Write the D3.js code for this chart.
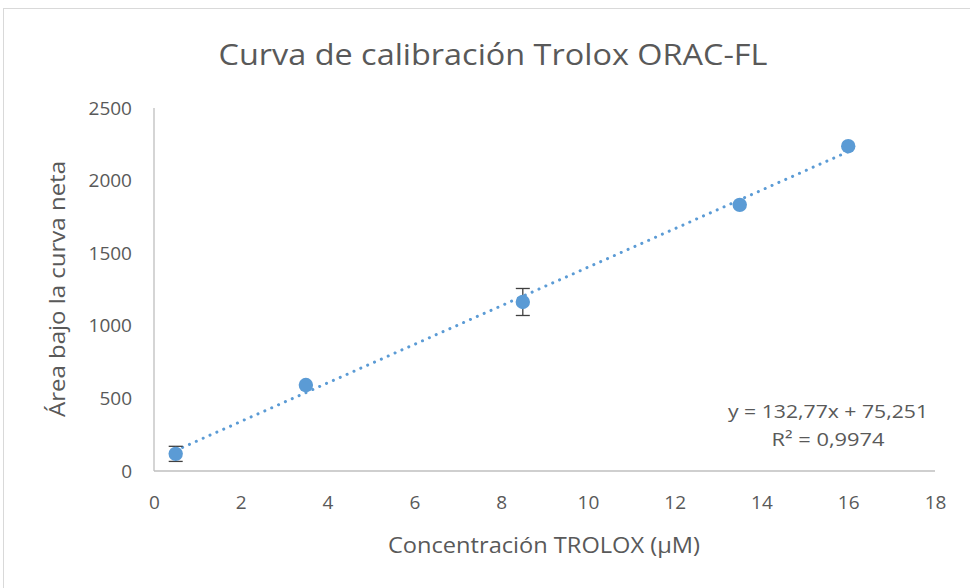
<!DOCTYPE html>
<html><head><meta charset="utf-8">
<script src="https://cdn.jsdelivr.net/npm/d3@7"></script>
<style>body{margin:0;background:#fff}svg{display:block}</style>
</head><body>
<svg id="c" width="970" height="588"></svg>
<script>
const concentrations = [0.5, 3.5, 8.5, 13.5, 16];
const areaValues = [118, 592, 1164, 1833, 2237];
const errorValues = [52, 0, 93, 0, 0];
const xTicks = [0, 2, 4, 6, 8, 10, 12, 14, 16, 18];
const yTicks = [0, 500, 1000, 1500, 2000, 2500];
const slope = 132.77, intercept = 75.251;
const title = "Curva de calibración Trolox ORAC-FL";
const xLabel = "Concentración TROLOX (µM)";
const yLabel = "Área bajo la curva neta";
const eqLines = ["y = 132,77x + 75,251", "R² = 0,9974"];

const svg = d3.select("#c");
const font = "'Open Sans', 'Noto Sans', sans-serif";
const txt = "#595959", blue = "#5b9bd5", axisCol = "#bfbfbf";

svg.append("rect").attr("x",3.5).attr("y",8.5).attr("width",980).attr("height",600)
  .attr("fill","#fff").attr("stroke","#d9d9d9").attr("stroke-width",1);

const x = d3.scaleLinear().domain([0,18]).range([154,935]);
const y = d3.scaleLinear().domain([0,2500]).range([471,108]);

svg.append("line").attr("x1",x(0)).attr("x2",x(18)).attr("y1",y(0)).attr("y2",y(0)).attr("stroke",axisCol).attr("stroke-width",1.3);
svg.append("line").attr("x1",x(0)).attr("x2",x(0)).attr("y1",y(0)).attr("y2",y(2500)).attr("stroke",axisCol).attr("stroke-width",1.3);

const xa = svg.append("g").attr("transform",`translate(0,${y(0)})`)
  .call(d3.axisBottom(x).tickValues(xTicks).tickSize(0).tickPadding(25).tickFormat(d3.format("d")));
xa.select(".domain").remove();
xa.selectAll("text").attr("fill",txt).style("font-family",font).style("font-size","19px");

const ya = svg.append("g").attr("transform",`translate(${x(0)},0)`)
  .call(d3.axisLeft(y).tickValues(yTicks).tickSize(0).tickPadding(22).tickFormat(d3.format("d")));
ya.select(".domain").remove();
ya.selectAll("text").attr("fill",txt).style("font-family",font).style("font-size","19px");

const xMin = d3.min(concentrations), xMax = d3.max(concentrations);
svg.append("line").attr("x1",x(xMin)).attr("y1",y(slope*xMin+intercept))
  .attr("x2",x(xMax)).attr("y2",y(slope*xMax+intercept))
  .attr("stroke",blue).attr("stroke-width",3).attr("stroke-dasharray","0.1 7.4").attr("stroke-linecap","round");

const data = concentrations.map((c,i)=>({x:c,y:areaValues[i],e:errorValues[i]}));

const eb = svg.append("g").selectAll("g").data(data.filter(d=>d.e>0)).join("g").attr("stroke","#404040").attr("stroke-width",1.3);
eb.append("line").attr("x1",d=>x(d.x)).attr("x2",d=>x(d.x)).attr("y1",d=>y(d.y-d.e)).attr("y2",d=>y(d.y+d.e));
eb.append("line").attr("x1",d=>x(d.x)-7).attr("x2",d=>x(d.x)+7).attr("y1",d=>y(d.y-d.e)).attr("y2",d=>y(d.y-d.e));
eb.append("line").attr("x1",d=>x(d.x)-7).attr("x2",d=>x(d.x)+7).attr("y1",d=>y(d.y+d.e)).attr("y2",d=>y(d.y+d.e));

svg.append("g").selectAll("circle").data(data).join("circle")
  .attr("cx",d=>x(d.x)).attr("cy",d=>y(d.y)).attr("r",7.2).attr("fill",blue);

svg.append("text").attr("x",493).attr("y",65).attr("text-anchor","middle")
  .attr("fill",txt).style("font-family",font).style("font-size","30px").text(title)
  .attr("textLength",549).attr("lengthAdjust","spacingAndGlyphs");

svg.append("text").attr("x",544).attr("y",553).attr("text-anchor","middle")
  .attr("fill",txt).style("font-family",font).style("font-size","21px").text(xLabel)
  .attr("textLength",312).attr("lengthAdjust","spacingAndGlyphs");
svg.append("text").attr("transform","translate(65,289) rotate(-90)").attr("text-anchor","middle")
  .attr("fill",txt).style("font-family",font).style("font-size","22px").text(yLabel)
  .attr("textLength",256).attr("lengthAdjust","spacingAndGlyphs");

svg.append("g").selectAll("text").data(eqLines).join("text")
  .attr("x",828).attr("y",(d,i)=>418+i*28).attr("text-anchor","middle")
  .attr("fill",txt).style("font-family",font).style("font-size","19px").text(d=>d)
  .attr("textLength",(d,i)=>i===0?200:113).attr("lengthAdjust","spacingAndGlyphs");
</script>
</body></html>
